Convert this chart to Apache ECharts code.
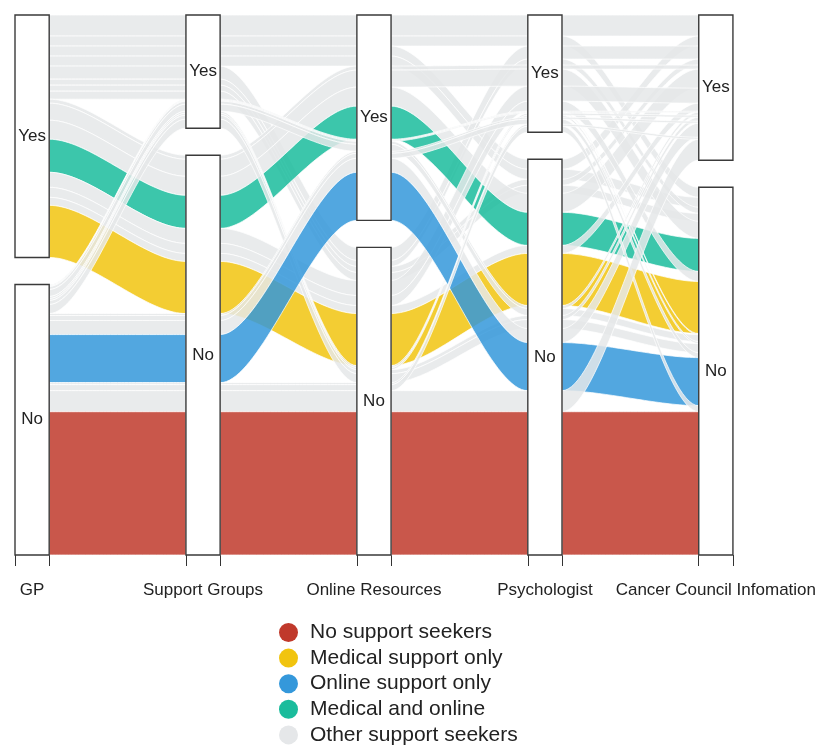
<!DOCTYPE html>
<html><head><meta charset="utf-8">
<script src="https://cdn.jsdelivr.net/npm/echarts@6/dist/echarts.min.js"></script>
<style>html,body{margin:0;padding:0;background:#fff}#c{width:819px;height:745px}</style>
</head><body><div id="c"></div>
<script>
// ---- data ----
const axisNames = ['GP', 'Support Groups', 'Online Resources', 'Psychologist', 'Cancer Council Infomation'];
const levels = ['No', 'Yes'];
// each combo: answers for GP, Support Groups, Online Resources, Psychologist, Cancer Council (N = No, Y = Yes)
const combos = [
  'NNNNN','NNNNY','NNNYN','NNNYY','NNYNN','NNYNY','NNYYN','NNYYY',
  'NYNNN','NYNNY','NYNYN','NYNYY','NYYNN','NYYNY','NYYYN','NYYYY',
  'YNNNN','YNNNY','YNNYN','YNNYY','YNYNN','YNYNY','YNYYN','YNYYY',
  'YYNNN','YYNNY','YYNYN','YYNYY','YYYNN','YYYNY','YYYYN','YYYYY'
];
const freq = [
  143, 21, 6, 2, 48, 14, 5, 2,
  9, 4, 2, 2, 7, 3, 1, 1,
  52, 8, 10, 15, 33, 19, 17, 4,
  8, 6, 6, 13, 10, 10, 10, 21
];
const groupNames = ['No support seekers', 'Medical support only', 'Online support only', 'Medical and online', 'Other support seekers'];
const groupCombos = ['NNNNN', 'YNNNN', 'NNYNN', 'YNYNN'];
const groupColors = ['#c0392b', '#f1c40f', '#3498db', '#1abc9c', '#e5e7e9'];

// ---- layout computation (alluvial-style stacking) ----
const gapWidth = 0.05, cw = 0.1, curve = 0.3, flowAlpha = 0.85;
const nAx = axisNames.length;
const total = freq.reduce((a, b) => a + b, 0);
const pos = combos.map(() => []);
for (let i = 0; i < nAx; i++) {
  const key = r => combos[r][i] + combos[r].slice(0, i) + combos[r].slice(i + 1);
  const order = combos.map((_, r) => r).sort((a, b) => key(a) < key(b) ? -1 : key(a) > key(b) ? 1 : 0);
  let cum = 0;
  order.forEach(r => {
    const shift = combos[r][i] === 'Y' ? gapWidth : 0;
    const lo = cum / total * (1 - gapWidth) + shift;
    cum += freq[r];
    const hi = cum / total * (1 - gapWidth) + shift;
    pos[r][i] = [lo, hi];
  });
}
const boxes = [];
for (let i = 0; i < nAx; i++) {
  for (let l = 0; l < 2; l++) {
    let lo = Infinity, hi = -Infinity;
    combos.forEach((c, r) => { if (c[i] === levels[l][0]) { lo = Math.min(lo, pos[r][i][0]); hi = Math.max(hi, pos[r][i][1]); } });
    boxes.push([i + 1, lo, hi, l]);
  }
}
function groupOf(r) { const g = groupCombos.indexOf(combos[r]); return g < 0 ? 4 : g; }
function rgba(hex, a) {
  const n = parseInt(hex.slice(1), 16);
  return `rgba(${(n >> 16) & 255},${(n >> 8) & 255},${n & 255},${a})`;
}
function bez(p0, p1, p2, p3, t) {
  const u = 1 - t;
  return u * u * u * p0 + 3 * u * u * t * p1 + 3 * u * t * t * p2 + t * t * t * p3;
}

const flowData = combos.map((_, r) => [combos.length - 1 - r]);

const chart = echarts.init(document.getElementById('c'), null, { renderer: 'canvas' });
const FONT = '"Liberation Sans", Arial, sans-serif';
chart.setOption({
  animation: false,
  backgroundColor: '#ffffff',
  grid: { left: 15, right: 83, top: 15, bottom: 190 },
  xAxis: {
    type: 'value', min: 0.9, max: 5.1, offset: 11,
    axisLine: { show: false },
    splitLine: { show: false },
    axisTick: { show: true, length: 11, lineStyle: { color: '#333', width: 1 },
      customValues: [0.9, 1.1, 1.9, 2.1, 2.9, 3.1, 3.9, 4.1, 4.9, 5.1] },
    axisLabel: { customValues: [1, 2, 3, 4, 5], margin: 16, color: '#222', fontSize: 17, fontFamily: FONT,
      formatter: v => axisNames[Math.round(v) - 1] }
  },
  yAxis: { type: 'value', min: 0, max: 1, show: false },
  legend: {
    orient: 'vertical', left: 279, top: 622, height: 200, icon: 'circle', padding: 0,
    itemWidth: 19, itemHeight: 19, itemGap: 4.6,
    itemStyle: { opacity: 1 },
    textStyle: { fontSize: 21, color: '#222', fontFamily: FONT, padding: [0, 0, 0, 7] },
    data: groupNames
  },
  series: [
    {
      type: 'custom', name: 'flows', z: 2,
      data: flowData,
      renderItem(params, api) {
        const r = api.value(0);
        const g = groupOf(r);
        const fill = rgba(groupColors[g], flowAlpha);
        const children = [];
        const N = 40;
        for (let j = 0; j < nAx - 1; j++) {
          const x0 = j + 1 + cw, x1 = j + 2 - cw, d = x1 - x0;
          const [a0, b0] = pos[r][j], [a1, b1] = pos[r][j + 1];
          const pts = [];
          for (let k = 0; k <= N; k++) {
            const t = k / N;
            const x = bez(x0, x0 + curve * d, x1 - curve * d, x1, t);
            const y = bez(b0, b0, b1, b1, t);
            pts.push(api.coord([x, y]));
          }
          for (let k = N; k >= 0; k--) {
            const t = k / N;
            const x = bez(x0, x0 + curve * d, x1 - curve * d, x1, t);
            const y = bez(a0, a0, a1, a1, t);
            pts.push(api.coord([x, y]));
          }
          children.push({ type: 'polygon', shape: { points: pts },
            style: { fill: fill, stroke: 'rgba(255,255,255,0.9)', lineWidth: 0.8 } });
        }
        return { type: 'group', children };
      }
    },
    {
      type: 'custom', name: 'strata', z: 5,
      data: boxes,
      renderItem(params, api) {
        const i = api.value(0), lo = api.value(1), hi = api.value(2), l = api.value(3);
        const p0 = api.coord([i - cw, hi]);
        const p1 = api.coord([i + cw, lo]);
        return { type: 'group', children: [
          { type: 'rect', shape: { x: p0[0], y: p0[1], width: p1[0] - p0[0], height: p1[1] - p0[1] },
            style: { fill: '#ffffff', stroke: '#3a3a3a', lineWidth: 1.4 } },
          { type: 'text', x: (p0[0] + p1[0]) / 2, y: (p0[1] + p1[1]) / 2,
            style: { text: levels[l], fill: '#222', fontSize: 17, fontFamily: FONT,
              align: 'center', verticalAlign: 'middle', textAlign: 'center', textVerticalAlign: 'middle' } }
        ] };
      }
    }
  ].concat(groupNames.map((n, g) => ({
    type: 'scatter', name: n, data: [], itemStyle: { color: groupColors[g], opacity: 1 }
  })))
});
</script>
</body></html>
